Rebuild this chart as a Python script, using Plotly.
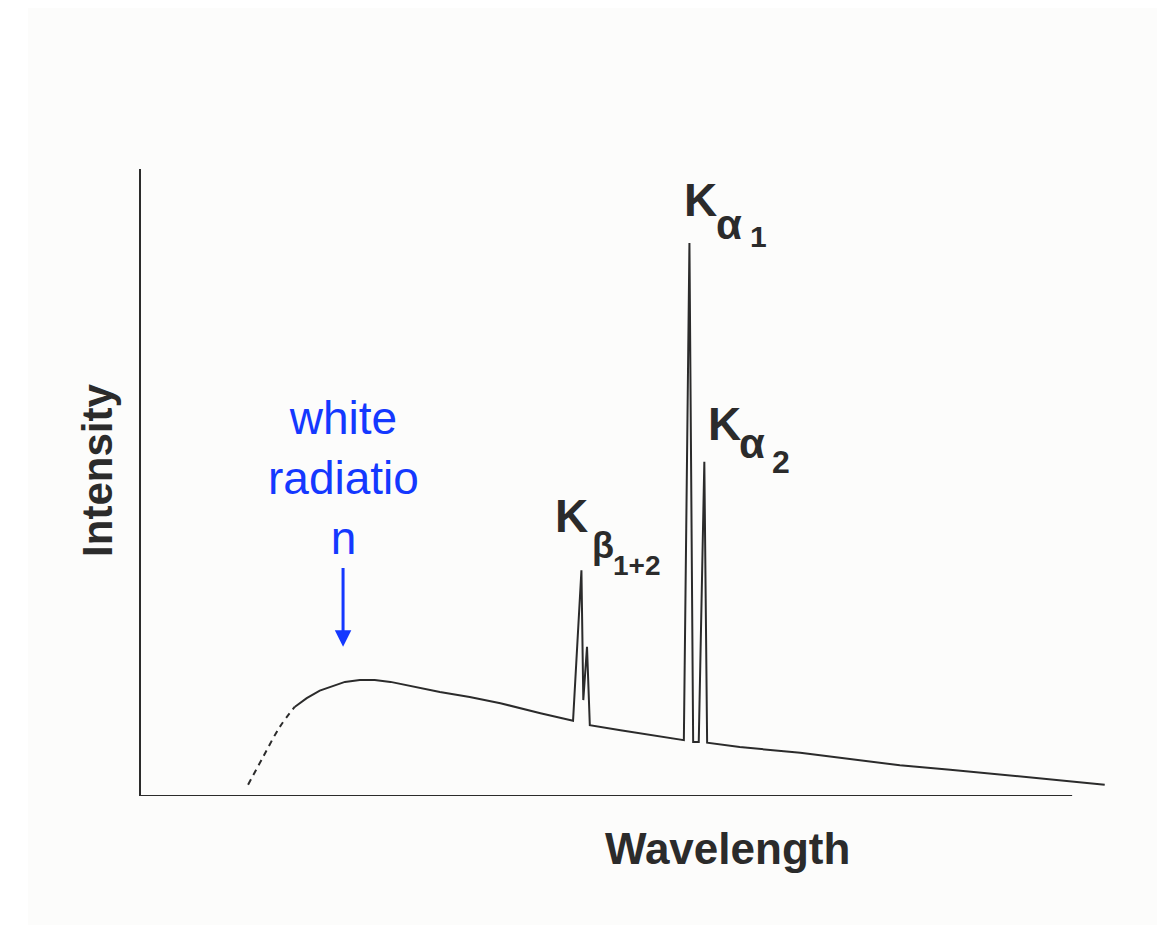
import plotly.graph_objects as go

# X-ray tube emission spectrum (arbitrary units)
# continuous "white radiation" onset, drawn dashed
onset_wavelength = [1.15, 1.31, 1.49, 1.65]
onset_intensity = [0.18, 0.62, 1.10, 1.42]

# measured spectrum: bremsstrahlung hump plus characteristic K lines
wavelength = [1.65, 1.78, 1.92, 2.06, 2.19, 2.35, 2.51, 2.68, 2.84, 3.00,
              3.21, 3.53, 3.86, 4.29, 4.64,
              4.73, 4.75, 4.79, 4.82,
              5.15, 5.47, 5.83, 5.89, 5.93, 5.99, 6.05, 6.08,
              6.43, 7.08, 7.62, 8.15, 8.69, 9.23, 9.76, 10.35]
intensity = [1.42, 1.56, 1.68, 1.75, 1.82, 1.85, 1.85, 1.82, 1.77, 1.72,
             1.66, 1.58, 1.48, 1.32, 1.20,
             3.60, 1.53, 2.38, 1.13,
             1.05, 0.97, 0.89, 8.82, 0.86, 0.86, 5.33, 0.85,
             0.78, 0.69, 0.59, 0.49, 0.42, 0.34, 0.26, 0.18]

x_range = [0, 10.6]
y_range = [0, 10]
x_axis_end = 10.0

ink = "#2b2b2b"
blue = "#1438ff"
font_family = "Liberation Sans, Arial, sans-serif"

fig = go.Figure()

fig.add_trace(go.Scatter(
    x=onset_wavelength, y=onset_intensity, mode="lines",
    line=dict(color=ink, width=2, dash="6px,5px", shape="spline"),
    hoverinfo="skip", showlegend=False,
))
fig.add_trace(go.Scatter(
    x=wavelength, y=intensity, mode="lines",
    line=dict(color=ink, width=2),
    showlegend=False,
))

W, H = 1165, 932
ml, mr, mt, mb = 141, 37, 169, 136
pw, ph = W - ml - mr, H - mt - mb

shapes = [
    # faint paper tone of the printed page
    dict(type="rect", xref="paper", yref="paper", layer="below",
         x0=(28 - ml) / pw, x1=(1157 - ml) / pw,
         y0=(H - mb - 925) / ph, y1=(H - mb - 8) / ph,
         fillcolor="#fcfcfb", line=dict(width=0)),
    # wavelength axis
    dict(type="line", xref="x", yref="y", x0=0, x1=x_axis_end, y0=0, y1=0,
         line=dict(color=ink, width=2)),
]

annotations = []

def label(x, y, text, size, color=ink, bold=True, xanchor="left",
          yanchor="middle", angle=0, ref="data"):
    xr, yr = ("x", "y") if ref == "data" else ("paper", "paper")
    annotations.append(dict(
        x=x, y=y, xref=xr, yref=yr, text=f"<b>{text}</b>" if bold else text,
        showarrow=False, xanchor=xanchor, yanchor=yanchor, textangle=angle,
        font=dict(family=font_family, size=size, color=color),
    ))

# K-alpha 1
label(5.81, 9.51, "K", 46)
label(6.15, 9.12, "α", 42)
label(6.52, 8.92, "1", 30)
# K-alpha 2
label(6.07, 5.94, "K", 46)
label(6.40, 5.62, "α", 42)
label(6.75, 5.33, "2", 32)
# K-beta 1+2
label(4.43, 4.47, "K", 46)
label(4.82, 4.00, "β", 36)
label(5.05, 3.68, "1+2", 28)

# axis titles
label(0.5947, -0.083, "Wavelength", 44, xanchor="center", ref="paper")
label(-0.0436, 0.52, "Intensity", 42, xanchor="center", angle=-90, ref="paper")

# white radiation note with arrow
annotations.append(dict(
    x=2.17, y=5.07, xref="x", yref="y",
    text="white<br>radiatio<br>n", showarrow=False,
    xanchor="center", yanchor="middle", align="center",
    font=dict(family=font_family, size=46, color=blue),
))
annotations.append(dict(
    x=2.17, y=2.38, ax=2.17, ay=3.66, xref="x", yref="y", axref="x", ayref="y",
    text="", showarrow=True, arrowhead=2, arrowsize=1.1, arrowwidth=3,
    arrowcolor=blue,
))

fig.update_layout(
    width=W, height=H,
    margin=dict(l=ml, r=mr, t=mt, b=mb),
    paper_bgcolor="white", plot_bgcolor="rgba(0,0,0,0)",
    shapes=shapes, annotations=annotations,
    xaxis=dict(range=x_range, showgrid=False, zeroline=False, showline=False,
               showticklabels=False, ticks=""),
    yaxis=dict(range=y_range, showgrid=False, zeroline=False, showline=True,
               linecolor=ink, linewidth=2, showticklabels=False, ticks=""),
)

fig.write_html("out.html")
